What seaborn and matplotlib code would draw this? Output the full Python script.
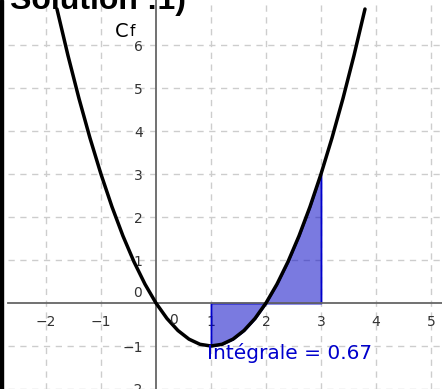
import numpy as np
import pandas as pd
import matplotlib
matplotlib.use('Agg')
import matplotlib.pyplot as plt
from matplotlib.patches import Rectangle
import seaborn as sns

# points of Cf (f(x) = x^2 - 2x)
x_vals = [-1.8, -1.6, -1.4, -1.2, -1.0, -0.8, -0.6, -0.4, -0.2, 0.0,
          0.2, 0.4, 0.6, 0.8, 1.0, 1.2, 1.4, 1.6, 1.8, 2.0,
          2.2, 2.4, 2.6, 2.8, 3.0, 3.2, 3.4, 3.6, 3.8]
y_vals = [6.84, 5.76, 4.76, 3.84, 3.0, 2.24, 1.56, 0.96, 0.44, 0.0,
          -0.36, -0.64, -0.84, -0.96, -1.0, -0.96, -0.84, -0.64, -0.36, 0.0,
          0.44, 0.96, 1.56, 2.24, 3.0, 3.84, 4.76, 5.76, 6.84]
integral_bounds = [1, 3]
integral_value = 0.67
xticks = [-2, -1, 1, 2, 3, 4, 5]
yticks = [-2, -1, 1, 2, 3, 4, 5, 6]

df = pd.DataFrame({'x': x_vals, 'y': y_vals})

sns.set_style("white")
plt.rcParams['font.family'] = ['DejaVu Sans']

fig = plt.figure(figsize=[4.42, 3.89], dpi=100)
ax = fig.add_axes([8/442, 0, 434/442, 1])
ax.set_xlim(-2.69, 5.2)
ax.set_ylim(-2.0, 7.05)

# dashed grid
for xv in xticks:
    ax.axvline(xv, color='#cdcdcd', lw=1.0, ls=(0, (4.5, 4)), zorder=0)
for yv in yticks:
    ax.axhline(yv, color='#cdcdcd', lw=1.0, ls=(0, (4.5, 4)), zorder=0)

# axes through origin
for s in ['top', 'right']:
    ax.spines[s].set_visible(False)
for s in ['left', 'bottom']:
    ax.spines[s].set_position(('data', 0))
    ax.spines[s].set_color('#666666')
    ax.spines[s].set_linewidth(1.3)
ax.set_xticks(xticks)
ax.set_xticklabels([str(v).replace('-', '\u2212') for v in xticks])
ax.set_yticks(yticks)
ax.set_yticklabels([str(v).replace('-', '\u2212') for v in yticks])
ax.tick_params(axis='both', direction='out', length=3, width=1.2, color='#666666',
               labelsize=10, labelcolor='#333333')
ax.tick_params(axis='x', pad=5.8)
ax.tick_params(axis='y', pad=6.5)

# shaded integral
sub = df[(df.x >= integral_bounds[0]) & (df.x <= integral_bounds[1])]
ax.fill_between(sub.x, sub.y, 0, facecolor=(0, 0, 0.77, 0.52), edgecolor='#0000cc',
                linewidth=1.3, zorder=1)

sns.lineplot(data=df, x='x', y='y', color='black', linewidth=2.5, ax=ax, zorder=3,
             sort=False)
ax.lines[-1].set_solid_capstyle('round')
ax.set_xlabel('')
ax.set_ylabel('')

ax.text(-0.33, 0.23, '0', fontsize=10, color='#333333', ha='center', va='center')
ax.text(0.31, -0.40, '0', fontsize=10, color='#333333', ha='center', va='center')
ax.text(-0.75, 6.19, 'C', fontsize=14, color='black', ha='left', va='baseline')
ax.text(-0.47, 6.21, 'f', fontsize=11, color='black', ha='left', va='baseline')
ax.text(0.93, -1.16, 'Intégrale = {:.2f}'.format(integral_value), fontsize=14.5,
        color='#0000cc', ha='left', va='center')

fig.text(10/442, 1 - 9/389, 'Solution :1)', fontsize=23, fontweight='bold',
         color='black', family=['Liberation Sans', 'DejaVu Sans'],
         ha='left', va='baseline')
fig.patches.append(Rectangle((0, 0), 3/442, 1, transform=fig.transFigure,
                             color='black', zorder=10))

plt.savefig('out.png', dpi=100)
